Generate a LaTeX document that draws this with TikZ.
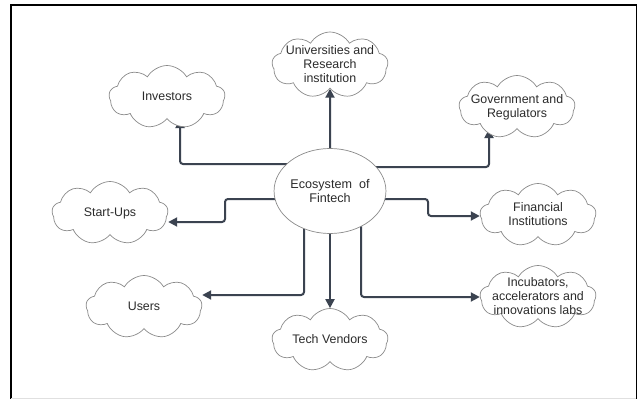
\documentclass[tikz,border=0pt]{standalone}
\usepackage{fontspec}
\setmainfont{Liberation Sans}
\usetikzlibrary{shapes.symbols,shapes.geometric,arrows.meta,backgrounds}
\definecolor{linec}{HTML}{3B4350}
\definecolor{cloudc}{HTML}{8A8A8A}
\definecolor{txtc}{HTML}{2B2B2B}
\newcommand{\cltext}[1]{\smash{\makebox[0pt]{\raisebox{-0.5ex}{\begin{tabular}{@{}c@{}}#1\end{tabular}}}}}
\begin{document}
\begin{tikzpicture}[x=1pt,y=-1pt,
  cl/.style={cloud, cloud puffs=9, cloud puff arc=120, draw=cloudc, line width=0.7pt,
    fill=white, minimum width=116pt, minimum height=63pt, inner sep=0pt, aspect=1.85,
    text=txtc, font=\fontsize{12.4pt}{14pt}\selectfont},
  eco/.style={ellipse, draw=cloudc, line width=0.7pt, fill=white, minimum width=94pt,
    minimum height=85pt, inner sep=0pt, align=center, text=txtc,
    font=\fontsize{12.6pt}{14.5pt}\selectfont},
  arr/.style={draw=linec, line width=2pt, rounded corners=3pt,
    -{Triangle[length=9pt,width=9pt]}}]
\useasboundingbox (0,0) rectangle (638,399);
% frame
\draw[line width=2pt, black] (11,399) -- (11,5) -- (637,5);
\draw[line width=1.5pt, black] (636.5,5) -- (636.5,399);
\draw[line width=0.8pt, black!12] (11,398) -- (636,398);
% nodes
\node[eco] (eco) at (330,191) {Ecosystem\ \ of\\Fintech};
\node[cl] (inv) at (167,97) {\cltext{Investors}};
\node[cl, minimum height=66pt] (uni) at (330,65) {\cltext{Universities and\\Research\\institution}};
\node[cl] (gov) at (517,107) {\cltext{Government and\\Regulators}};
\node[cl] (sta) at (110,213) {\cltext{Start-Ups}};
\node[cl] (usr) at (144,307) {\cltext{Users}};
\node[cl] (tec) at (330,340) {\cltext{Tech Vendors}};
\node[cl] (fin) at (538,215) {\cltext{Financial\\Institutions}};
\node[cl] (inc) at (538,297) {\cltext{Incubators,\\accelerators and\\innovations labs}};
% connectors
\begin{scope}[on background layer]
\draw[arr] ([yshift=27pt]eco.center) -| ([xshift=13pt]inv.south);
\draw[arr] (eco.center) -- (uni.south);
\draw[arr] ([yshift=24pt]eco.center) -| ([xshift=-28pt]gov.south);
\draw[arr] ([yshift=-8pt]eco.center) -- (225,199) -- (225,222) -- (sta.east |- 0,222);
\draw[arr] ([xshift=-26pt]eco.center) |- (usr.east |- 0,295);
\draw[arr] (eco.center) -- (tec.north);
\draw[arr] ([yshift=-8pt]eco.center) -- (428,199) -- (428,216) -- (fin.west |- 0,216);
\draw[arr] ([xshift=31pt]eco.center) |- (inc.west);
\end{scope}
\end{tikzpicture}
\end{document}
